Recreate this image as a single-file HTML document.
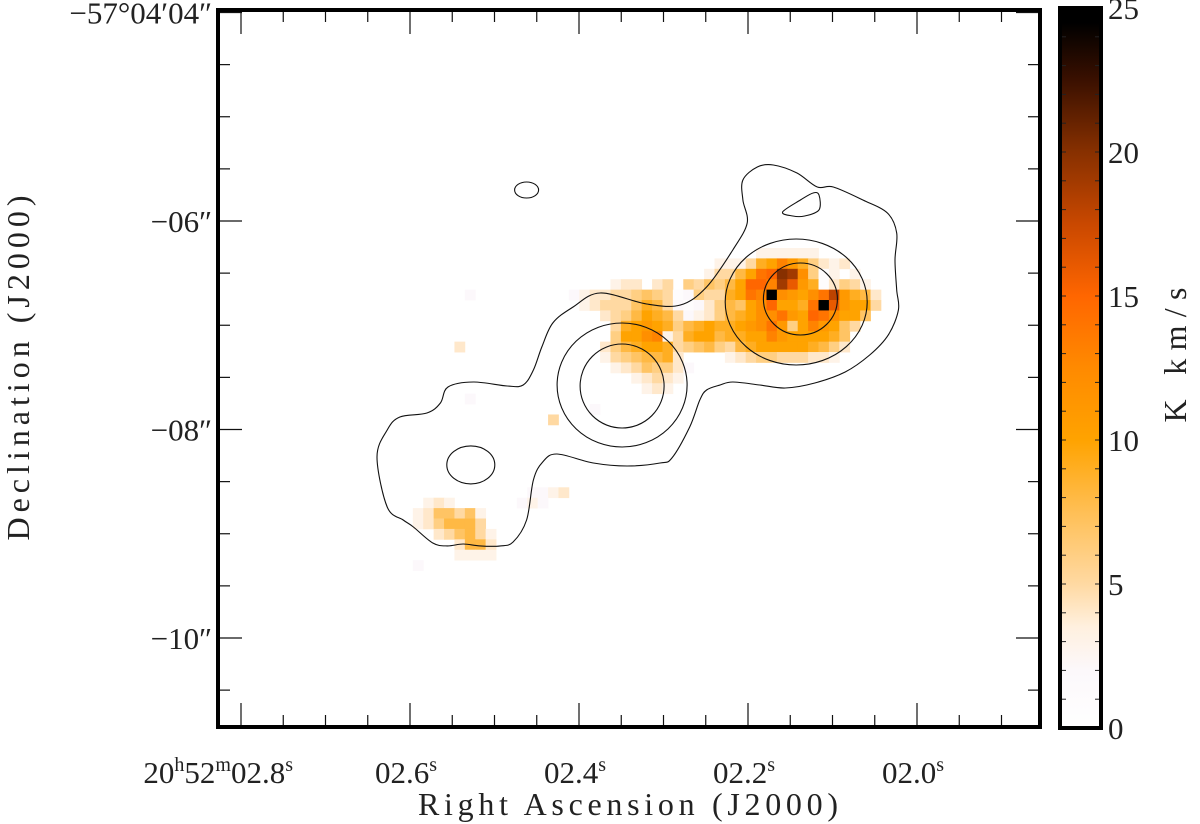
<!DOCTYPE html>
<html><head><meta charset="utf-8"><style>
html,body{margin:0;padding:0;background:#fff;}
svg{display:block;}
text{font-family:"Liberation Serif",serif;fill:#222;}
</style></head><body>
<svg id="chart" width="1200" height="824" viewBox="0 0 1200 824" xmlns="http://www.w3.org/2000/svg">
<defs>
<clipPath id="plotClip"><rect x="220" y="12" width="818" height="713"/></clipPath>
<linearGradient id="cbGrad" x1="0" y1="1" x2="0" y2="0"></linearGradient>
</defs>
<g id="heat" clip-path="url(#plotClip)"></g>
<g id="contours" clip-path="url(#plotClip)" fill="none" stroke="#111" stroke-width="1.1"></g>
<g id="axes"></g>
</svg>
<script>
// ---- data ----
// heatmap pixel grid: [rowIndex, startColumn, values...] (K km/s)
const gridRowIdx = [0,1,2,3,4,4,5,6,7,8,9,9,10,11,12,13,14,15,16,23,24,24,25,26,27,28,29,30];
const gridStartCol = [18,14,13,4,-10,0,1,3,4,4,3,-11,3,4,6,7,-10,2,-2,-4,-5,-14,-15,-15,-14,-13,-13,-15];
const gridValues = [
 [3,3,3,3,3,3],
 [3,3,3,5,9,10,13,11,9,6,4,3,4],
 [3,5,5,8,10,14,15,20,19,12,6,1,3,0,3],
 [3,4,4,0,4,5,0,6,5,7,6,8,10,15,15,13,19,16,11,9,1,4,6,5,3],
 [2],
 [2,3,4,4,5,5,6,7,6,5,1,2,6,5,5,9,10,14,13,25,12,11,10,12,14,18,11,9,8,4],
 [3,4,5,5,5,7,9,8,5,2,1,2,4,6,8,7,10,12,15,10,10,9,14,25,16,11,10,10,5],
 [4,5,6,8,10,9,8,5,2,3,4,6,8,9,10,12,12,14,11,10,15,14,12,10,10,7],
 [5,9,10,11,10,9,6,8,9,10,9,9,10,11,12,14,11,6,10,13,11,10,7,5],
 [6,10,10,12,13,3,5,9,10,10,8,9,9,10,10,13,11,10,10,10,10,9,7],
 [4,6,8,9,10,10,9,5,6,7,8,6,5,8,9,10,10,10,10,10,9,8,6,4],
 [4],
 [3,5,6,7,8,8,9,4,0,0,0,0,3,4,5,6,6,5,5,5,4,4,3],
 [3,4,5,7,6,6,4,2],
 [3,4,5,4,3],
 [3,4,3],
 [2],
 [2],
 [5],
 [2,2,3,4],
 [2,3,2],
 [3,4,3],
 [3,4,7,7,5,7,3],
 [3,4,6,8,8,8,5],
 [0,4,5,7,8,5,3],
 [0,0,4,8,8,4],
 [0,0,3,3,3,3],
 [2]
];
const gridRA0 = 2.412, gridDec0 = 6.259, cellRA = 0.01231, cellDec = 0.0998;

// contours: outer level (RA seconds, Dec arcsec offset)
const outerRA = [2.639,2.627,2.612,2.580,2.564,2.555,2.525,2.485,2.466,2.454,2.444,2.431,2.407,2.375,2.320,2.280,2.249,2.218,2.201,2.206,2.206,2.189,2.170,2.142,2.118,2.099,2.064,2.035,2.024,2.026,2.024,2.022,2.034,2.056,2.085,2.121,2.156,2.186,2.218,2.233,2.249,2.257,2.269,2.290,2.304,2.343,2.383,2.426,2.443,2.454,2.462,2.478,2.493,2.517,2.537,2.556,2.573,2.596,2.608,2.627,2.639];
const outerDec = [8.264,8.005,7.880,7.842,7.746,7.592,7.544,7.583,7.573,7.429,7.209,6.978,6.825,6.691,6.796,6.806,6.633,6.278,6.019,5.799,5.607,5.482,5.463,5.540,5.674,5.674,5.799,5.923,6.115,6.374,6.662,6.854,7.093,7.285,7.448,7.554,7.602,7.573,7.544,7.573,7.621,7.717,7.976,8.273,8.321,8.350,8.321,8.235,8.312,8.484,8.868,9.079,9.117,9.117,9.098,9.117,9.089,8.935,8.868,8.743,8.484];
const smallRA = [2.159,2.138,2.123,2.116,2.116,2.133,2.147];
const smallDec = [5.914,5.799,5.731,5.751,5.894,5.952,5.952];
// elliptical contours: centre RA, centre Dec, RA half-width (s), Dec half-height (")
const ellRA = [2.462,2.528,2.349,2.349,2.143,2.138];
const ellDec = [5.703,8.340,7.573,7.583,6.777,6.748];
const ellWRA = [0.0142,0.0284,0.0769,0.0497,0.0840,0.0438];
const ellHDec = [0.077,0.182,0.595,0.403,0.604,0.345];

// axis ticks
const raMajor = [2.8,2.6,2.4,2.2,2.0];
const raLabels = ["02.8","02.6","02.4","02.2","02.0"];
const decMajor = [4,6,8,10];
const decLabels = ["\u221257\u00b004\u203204\u2033","\u221206\u2033","\u221208\u2033","\u221210\u2033"];
const cbTicks = [0,5,10,15,20,25];
const cmapVals = [0,2,3.5,5,7.5,10,12.5,15,17.5,20,22.5,24.5,25];
const cmapCols = ["#ffffff","#fcf8fb","#fff0df","#ffd9a2","#ffbf55","#ffa300","#ff8a00","#ff6600","#c94800","#873000","#3a1000","#000000","#000000"];

// ---- scales ----
const NS="http://www.w3.org/2000/svg";
const xS = ra => 241 + (2.8 - ra) * 845;
const yS = d => 221 + (d - 6) * 104.25;
const cbY = v => 728 - v * 28.8;
function hex(h){return [parseInt(h.substr(1,2),16),parseInt(h.substr(3,2),16),parseInt(h.substr(5,2),16)];}
function cmap(v){
  if(v<=cmapVals[0]) return cmapCols[0];
  for(let i=1;i<cmapVals.length;i++){
    if(v<=cmapVals[i]){
      const t=(v-cmapVals[i-1])/(cmapVals[i]-cmapVals[i-1]);
      const a=hex(cmapCols[i-1]),b=hex(cmapCols[i]);
      return "rgb("+a.map((x,k)=>Math.round(x+(b[k]-x)*t)).join(",")+")";
    }
  }
  return cmapCols[cmapCols.length-1];
}
function mk(tag,attrs,parent){const e=document.createElementNS(NS,tag);for(const k in attrs)e.setAttribute(k,attrs[k]);parent.appendChild(e);return e;}

// ---- heatmap ----
const heat=document.getElementById('heat');
gridValues.forEach((vals,i)=>{
  const r=gridRowIdx[i];
  vals.forEach((v,j)=>{
    if(v<=0) return;
    const c=gridStartCol[i]+j;
    const ra=gridRA0 - c*cellRA, dec=gridDec0 + r*cellDec;
    const x0=xS(ra), x1=xS(ra-cellRA), y0=yS(dec), y1=yS(dec+cellDec);
    const el=mk('rect',{x:x0.toFixed(2),y:y0.toFixed(2),width:(x1-x0+0.4).toFixed(2),height:(y1-y0+0.4).toFixed(2),fill:cmap(v)},heat);
    
    
  });
});

// ---- contours ----
const cg=document.getElementById('contours');
function smoothClosed(pts){
  const n=pts.length;let d="M"+pts[0][0].toFixed(1)+","+pts[0][1].toFixed(1);
  for(let i=0;i<n;i++){
    const p0=pts[(i-1+n)%n],p1=pts[i],p2=pts[(i+1)%n],p3=pts[(i+2)%n];
    const c1=[p1[0]+(p2[0]-p0[0])/6,p1[1]+(p2[1]-p0[1])/6];
    const c2=[p2[0]-(p3[0]-p1[0])/6,p2[1]-(p3[1]-p1[1])/6];
    d+="C"+c1[0].toFixed(1)+","+c1[1].toFixed(1)+" "+c2[0].toFixed(1)+","+c2[1].toFixed(1)+" "+p2[0].toFixed(1)+","+p2[1].toFixed(1);
  }
  return d+"Z";
}
const outerPts=outerRA.map((ra,i)=>[xS(ra),yS(outerDec[i])]);
outerPts.pop();
const oc=mk('path',{d:smoothClosed(outerPts)},cg);


const sc=mk('path',{d:smoothClosed(smallRA.map((ra,i)=>[xS(ra),yS(smallDec[i])]))},cg);


ellRA.forEach((ra,i)=>{
  const e=mk('ellipse',{cx:xS(ra).toFixed(1),cy:yS(ellDec[i]).toFixed(1),rx:(ellWRA[i]*845).toFixed(1),ry:(ellHDec[i]*104.25).toFixed(1)},cg);
  
  
});

// ---- axes ----
const ax=document.getElementById('axes');
const L=218,R=1040,T=10,B=727;
// x ticks (every 0.05 s)
for(let k=-1;k<=19;k++){
  const ra=2.8-k*0.05, x=xS(ra);
  if(x<L+3||x>R-3) continue;
  const len=(k%4===0)?24:12;
  const t1=mk('line',{x1:x,y1:B,x2:x,y2:B-len,stroke:"#111","stroke-width":1.2},ax);
  
  
  const t2=mk('line',{x1:x,y1:T,x2:x,y2:T+len,stroke:"#111","stroke-width":1.2},ax);
  
  
}
// y ticks (every 0.5")
for(let k=0;k<=14;k++){
  const d=4+k*0.5, y=yS(d);
  if(y<T+1||y>B-3) continue;
  const len=(k%4===0)?24:12;
  const t1=mk('line',{x1:L,y1:y,x2:L+len,y2:y,stroke:"#111","stroke-width":1.2},ax);
  
  
  const t2=mk('line',{x1:R,y1:y,x2:R-len,y2:y,stroke:"#111","stroke-width":1.2},ax);
  
  
}
const frame=mk('rect',{x:L,y:T,width:R-L,height:B-T,fill:"none",stroke:"#000","stroke-width":4},ax);



// x labels
raMajor.forEach((ra,i)=>{
  const x=xS(ra);
  const t=mk('text',{y:783,"font-size":31,"text-anchor":i===0?"end":"middle",x:i===0?x+52:x-4},ax);
  
  
  if(i===0){
    t.appendChild(document.createTextNode("20"));
    const h=mk('tspan',{"font-size":20,dy:-12},t);h.textContent="h";
    const m2=mk('tspan',{"font-size":31,dy:12},t);m2.textContent="52";
    const m=mk('tspan',{"font-size":20,dy:-12},t);m.textContent="m";
    const s2=mk('tspan',{"font-size":31,dy:12},t);s2.textContent=raLabels[i];
  } else {
    t.appendChild(document.createTextNode(raLabels[i]));
  }
  const s=mk('tspan',{"font-size":20,dy:-12},t);s.textContent="s";
});
// y labels
decMajor.forEach((d,i)=>{
  const y=yS(d);
  const t=mk('text',{x:212,y:y+11,"font-size":31,"text-anchor":"end"},ax);
  
  
  t.textContent=decLabels[i];
});
const xt=mk('text',{x:628,y:815,"font-size":32,"text-anchor":"middle",textLength:420,lengthAdjust:"spacing"},ax);


xt.textContent="Right Ascension (J2000)";
const yt=mk('text',{x:0,y:0,"font-size":32,"text-anchor":"middle",textLength:345,lengthAdjust:"spacing",transform:"translate(29,368) rotate(-90)"},ax);


yt.textContent="Declination (J2000)";

// ---- colorbar ----
const grad=document.getElementById('cbGrad');
cmapVals.forEach((v,i)=>{mk('stop',{offset:(v/25).toFixed(3),"stop-color":cmapCols[i]},grad);});
const cbx0=1060,cbx1=1101;
const cbr=mk('rect',{x:cbx0,y:cbY(25),width:cbx1-cbx0,height:cbY(0)-cbY(25),fill:"url(#cbGrad)"},ax);


for(let v=1;v<25;v++){
  const y=cbY(v);
  mk('line',{x1:cbx0,y1:y,x2:cbx0+6,y2:y,stroke:"#222","stroke-width":1},ax);
  mk('line',{x1:cbx1,y1:y,x2:cbx1-6,y2:y,stroke:"#222","stroke-width":1},ax);
}
const cbf=mk('rect',{x:cbx0,y:cbY(25),width:cbx1-cbx0,height:cbY(0)-cbY(25),fill:"none",stroke:"#000","stroke-width":4},ax);


cbTicks.forEach(v=>{
  const t=mk('text',{x:1108,y:cbY(v)+11,"font-size":31},ax);
  
  
  t.textContent=String(v);
});
const ct=mk('text',{x:0,y:0,"font-size":32,"text-anchor":"middle",textLength:135,lengthAdjust:"spacing",transform:"translate(1186,355) rotate(-90)"},ax);


ct.textContent="K km/s";
</script>
</body></html>
